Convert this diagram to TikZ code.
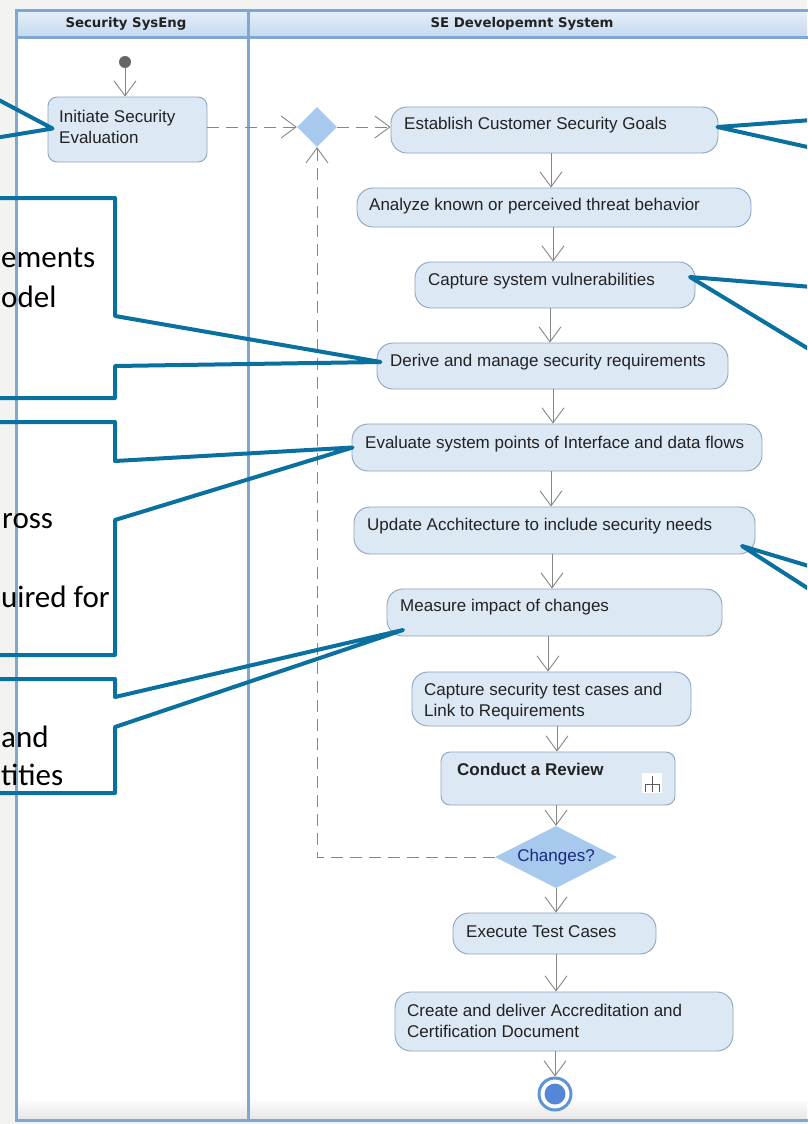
\documentclass[tikz,border=0pt]{standalone}
\usepackage{fontspec}
\setmainfont{Liberation Sans}
\newfontfamily\hdrfont{DejaVu Sans}
\newfontfamily\callfont{Carlito}
\usetikzlibrary{arrows.meta,shapes.geometric,calc}
\definecolor{pagebg}{HTML}{F3F3F1}
\definecolor{lanec}{HTML}{80A7D2}
\definecolor{hdrtop}{HTML}{E4EEF9}
\definecolor{hdrbot}{HTML}{C4D8EF}
\definecolor{actfill}{HTML}{DDE8F5}
\definecolor{actdraw}{HTML}{8FA4BE}
\definecolor{flowc}{HTML}{868686}
\definecolor{callc}{HTML}{0A70A0}
\definecolor{decfill}{HTML}{A7C9EE}
\definecolor{chgtext}{HTML}{1B2A7C}
\definecolor{finring}{HTML}{5F95D3}
\definecolor{txtc}{HTML}{222222}
\newcommand\twoline[2]{\begin{tabular}[t]{@{}l@{}}#1\\#2\end{tabular}}
\begin{document}
\begin{tikzpicture}[x=1pt,y=-1pt,
  act/.style={draw=actdraw, fill=actfill, line width=0.9pt, rounded corners=16pt, inner sep=0pt},
  actsq/.style={act, rounded corners=9pt},
  atxt/.style={anchor=base west, inner sep=0pt, font=\fontsize{17}{21}\selectfont, text=txtc},
  flow/.style={draw=flowc, line width=0.9pt, -{Straight Barb[length=15pt,width=22pt]}},
  dflow/.style={flow, dash pattern=on 12pt off 7pt},
  call/.style={draw=callc, line width=4pt, line join=round},
  ctxt/.style={anchor=base west, inner sep=0pt, font=\callfont\fontsize{31}{38}\selectfont, text=black},
  hdr/.style={font=\hdrfont\bfseries\fontsize{13.3}{15}\selectfont, inner sep=0pt, text=txtc},
  dec/.style={diamond, fill=decfill, draw=none, inner sep=0pt, shape aspect=2}
]
\useasboundingbox (0,0) rectangle (807,1124);
% background and swimlanes
\fill[pagebg] (0,0) rectangle (807,1124);
\fill[white] (16,38) rectangle (807,1119);
\shade[top color=white, bottom color=black!9] (17,1098) rectangle (807,1118);
\shade[top color=hdrtop, bottom color=hdrbot] (16,11) rectangle (807,38);
\draw[lanec, line width=3pt] (810,11) -- (16,11) -- (16,1120) -- (810,1120);
\draw[lanec, line width=3pt] (16,38) -- (810,38);
\draw[lanec, line width=3pt] (248,11) -- (248,1120);
\node[hdr] (h1) at (126,24) {Security SysEng};
\node[hdr] (h2) at (522,24) {SE Developemnt System};

% activity nodes
\node[circle, fill=black!60, minimum size=12pt, inner sep=0pt] (init) at (125,62) {};
\node[actsq, minimum width=159pt, minimum height=65pt] (ini) at (127.5,129.5) {};
\node[dec, minimum width=40pt, minimum height=40pt] (mrg) at (317,127) {};
\node[act, minimum width=327pt, minimum height=46pt] (est) at (554.5,130) {};
\node[act, minimum width=394pt, minimum height=39pt] (ana) at (554,207.5) {};
\node[act, minimum width=280pt, minimum height=46pt] (cap) at (555,285) {};
\node[act, minimum width=351pt, minimum height=46pt] (der) at (552.5,366) {};
\node[act, minimum width=410pt, minimum height=47pt] (eva) at (557,447.5) {};
\node[act, minimum width=401pt, minimum height=47pt] (upd) at (554.5,530.5) {};
\node[act, minimum width=335pt, minimum height=47pt] (mea) at (554.5,612.5) {};
\node[act, minimum width=279pt, minimum height=54pt] (ctc) at (551.5,699) {};
\node[actsq, minimum width=234pt, minimum height=53pt] (con) at (558,778.5) {};
\node[dec, minimum width=122pt, minimum height=62pt, text=chgtext, font=\fontsize{17}{21}\selectfont] (chg) at (556,857) {Changes?};
\node[act, minimum width=203pt, minimum height=41pt] (exe) at (554.5,933.5) {};
\node[act, minimum width=338pt, minimum height=59pt] (cre) at (564,1021.5) {};
\node[circle, draw=finring, line width=3pt, fill=white, minimum size=32pt, inner sep=0pt] (fin) at (555,1094) {};
\node[circle, fill=finring!90!blue, minimum size=21pt, inner sep=0pt] (finin) at (fin) {};

% activity texts
\node[atxt] (ini-t) at (59,122) {\twoline{Initiate Security}{Evaluation}};
\node[atxt] (est-t) at (404,129) {Establish Customer Security Goals};
\node[atxt] (ana-t) at (369,210) {Analyze known or perceived threat behavior};
\node[atxt] (cap-t) at (428,285) {Capture system vulnerabilities};
\node[atxt] (der-t) at (390,366) {Derive and manage security requirements};
\node[atxt] (eva-t) at (365,448) {Evaluate system points of Interface and data flows};
\node[atxt] (upd-t) at (367,530) {Update Acchitecture to include security needs};
\node[atxt] (mea-t) at (400,611) {Measure impact of changes};
\node[atxt] (ctc-t) at (424,695) {\twoline{Capture security test cases and}{Link to Requirements}};
\node[atxt, font=\bfseries\fontsize{17}{21}\selectfont] (con-t) at (457,775) {Conduct a Review};
\node[atxt] (exe-t) at (466,937) {Execute Test Cases};
\node[atxt] (cre-t) at (407,1016) {\twoline{Create and deliver Accreditation and}{Certification Document}};

% sub-activity (rake) icon
\node[fill=white, minimum width=20pt, minimum height=20pt, inner sep=0pt] (rake) at (652,783) {};
\draw[black!65, line width=0.9pt] (rake.north -| 652,0) ++(0,3) -- (652,792)
  (645,792) -- (645,784) -- (659,784) -- (659,792);

% control flows
\draw[flow] (init.south) -- (ini.north -| init.south);
\draw[dflow] (ini.east |- mrg.west) -- (mrg.west);
\draw[dflow] (mrg.east) -- (est.west |- mrg.east);
\draw[flow] (est.south -| 551,0) -- (ana.north -| 551,0);
\draw[flow] (ana.south -| 553,0) -- (cap.north -| 553,0);
\draw[flow] (cap.south -| 550,0) -- (der.north -| 550,0);
\draw[flow] (der.south -| 553,0) -- (eva.north -| 553,0);
\draw[flow] (eva.south -| 551,0) -- (upd.north -| 551,0);
\draw[flow] (upd.south -| 552,0) -- (mea.north -| 552,0);
\draw[flow] (mea.south -| 548,0) -- (ctc.north -| 548,0);
\draw[flow] (ctc.south -| 557,0) -- (con.north -| 557,0);
\draw[flow] (con.south -| chg.north) -- (chg.north);
\draw[flow] (chg.south) -- (exe.north -| chg.south);
\draw[flow] (exe.south -| 556,0) -- (cre.north -| 556,0);
\draw[flow] (cre.south -| fin.north) -- (fin.north);
\draw[dflow] (chg.west) -- (chg.west -| mrg.south) -- (mrg.south);

% callouts
\coordinate (tipA) at ($(ini.west)+(5,-1)$);
\coordinate (tipB) at ($(der.west)+(4,-4)$);
\coordinate (tipC) at ($(eva.west)+(1,0)$);
\coordinate (tipD) at (403,630);
\coordinate (tipE) at ($(est.east)+(-1,-3)$);
\coordinate (tipF) at (690,277);
\coordinate (tipG) at (742,546);
\begin{scope}
\clip (0,0) rectangle (807,1124);
\draw[call] (-5,98) -- (tipA) -- (-5,138);
\draw[call] (-5,198) -- (115,198) -- (115,316) -- (tipB) -- (115,366) -- (115,398) -- (-5,398);
\draw[call] (-5,422) -- (115,422) -- (115,461) -- (tipC) -- (115,520) -- (115,655) -- (-5,655);
\draw[call] (-5,679) -- (115,679) -- (115,697) -- (tipD) -- (115,727) -- (115,793) -- (-5,793);
\draw[call] (812,120) -- (tipE) -- (812,148);
\draw[call] (812,287) -- (tipF) -- (812,351);
\draw[call] (812,567) -- (tipG) -- (812,591);
\end{scope}
\node[ctxt] (cb1) at (1,267) {ements};
\node[ctxt] (cb2) at (1,307) {odel};
\node[ctxt] (cc1) at (2,528) {ross};
\node[ctxt] (cc2) at (1,607) {uired for};
\node[ctxt] (cd1) at (1,747) {and};
\node[ctxt] (cd2) at (1,785) {tities};
\end{tikzpicture}
\end{document}
